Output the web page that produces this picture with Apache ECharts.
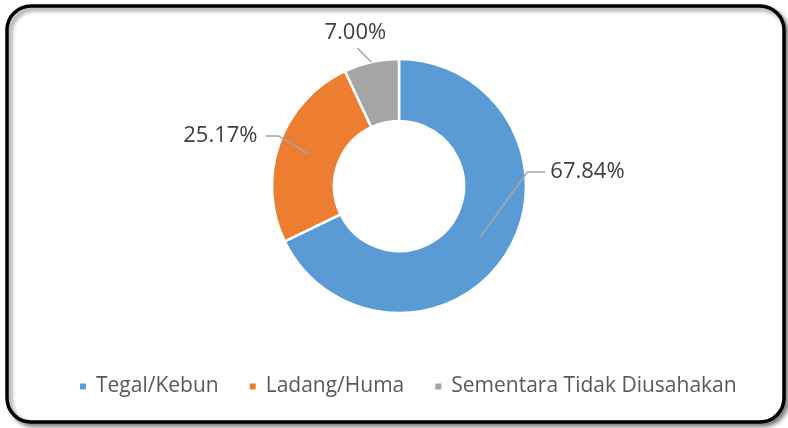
<!DOCTYPE html>
<html>
<head>
<meta charset="utf-8">
<script src="https://cdn.jsdelivr.net/npm/echarts@6/dist/echarts.min.js"></script>
<style>
  html, body { margin: 0; background: #fff; }
  #chart { width: 788px; height: 428px; }
</style>
</head>
<body>
<div id="chart"></div>
<script>
  // data
  const categories = ['Tegal/Kebun', 'Ladang/Huma', 'Sementara Tidak Diusahakan']
  const shares = [67.84, 25.17, 7.00]
  const colors = ['#5b9bd5', '#ed7d31', '#a5a5a5']

  const center = [399, 186]
  const outerR = 127
  const innerR = 65

  // where each leader line starts (radius), its elbow offset and horizontal run
  const leaders = [
    { r: 96, elbow: [47, -65], run: 18 },
    { r: 96, elbow: [-30, -18], run: -13 },
    { r: 127, elbow: [-14, -14], run: 0 }
  ]

  const pieData = categories.map((name, i) => ({ name: name, value: shares[i] }))

  let chart = echarts.init(document.getElementById('chart'))
  chart.setOption({
    animation: false,
    color: colors,
    graphic: [{
      type: 'rect',
      z: -10,
      shape: { x: 7, y: 6, width: 777, height: 416, r: 24 },
      style: {
        fill: '#fff',
        stroke: '#000',
        lineWidth: 3.5,
        shadowBlur: 4,
        shadowOffsetX: 3,
        shadowOffsetY: 3,
        shadowColor: 'rgba(0,0,0,0.45)'
      }
    }],
    legend: {
      data: categories,
      left: 78,
      top: 376,
      padding: 0,
      icon: 'rect',
      itemWidth: 8,
      itemHeight: 8,
      itemGap: 29,
      textStyle: {
        fontFamily: '"Open Sans", sans-serif',
        fontSize: 21,
        color: '#595959',
        padding: [0, 0, 0, 4]
      }
    },
    series: [
      {
        type: 'pie',
        center: center,
        radius: [innerR, outerR],
        startAngle: 90,
        z: 2,
        avoidLabelOverlap: false,
        silent: true,
        itemStyle: { borderColor: '#fff', borderWidth: 2.5 },
        label: { show: false },
        labelLine: { show: false },
        data: pieData
      },
      {
        // transparent copy on top that only carries labels and leader lines
        type: 'pie',
        center: center,
        radius: [0, outerR],
        startAngle: 90,
        z: 6,
        zlevel: 1,
        avoidLabelOverlap: false,
        silent: true,
        itemStyle: { color: 'rgba(0,0,0,0)', borderWidth: 0 },
        label: {
          show: true,
          position: 'outside',
          fontFamily: '"Open Sans", sans-serif',
          fontSize: 22,
          color: '#404040',
          formatter: p => p.value.toFixed(2) + '%'
        },
        labelLine: {
          show: true,
          lineStyle: { color: '#a6a6a6', width: 1.5 }
        },
        labelLayout: function (params) {
          const L = leaders[params.dataIndex]
          const p0 = params.labelLinePoints[0]
          const k = L.r / outerR
          const start = [center[0] + (p0[0] - center[0]) * k, center[1] + (p0[1] - center[1]) * k]
          const elbow = [start[0] + L.elbow[0], start[1] + L.elbow[1]]
          const end = [elbow[0] + L.run, elbow[1]]
          let out = { labelLinePoints: [start, elbow, end] }
          if (L.run > 0) {
            out.x = end[0] + 5; out.y = end[1]; out.align = 'left'; out.verticalAlign = 'middle'
          } else if (L.run < 0) {
            out.x = end[0] - 8; out.y = end[1]; out.align = 'right'; out.verticalAlign = 'middle'
          } else {
            out.x = end[0] - 2; out.y = end[1] - 4; out.align = 'center'; out.verticalAlign = 'bottom'
          }
          return out
        },
        data: pieData
      }
    ]
  })
</script>
</body>
</html>
